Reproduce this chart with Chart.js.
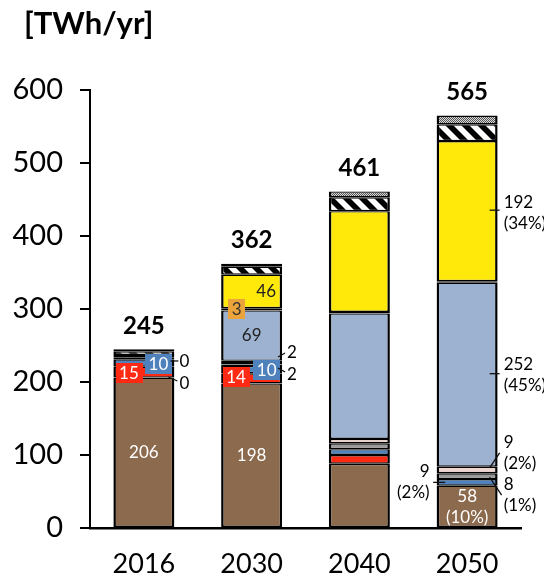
<!DOCTYPE html>
<html>
<head>
<meta charset="utf-8">
<script src="https://cdn.jsdelivr.net/npm/chart.js@4/dist/chart.umd.min.js"></script>
<style>
  html, body { margin: 0; padding: 0; background: #fff; }
  #wrap { width: 544px; height: 583px; }
</style>
</head>
<body>
<div id="wrap"><canvas id="chart" width="544" height="583"></canvas></div>
<script>
// Annual electricity supply by source [TWh/yr]
const years = ['2016', '2030', '2040', '2050'];
const fossil     = [206, 198, 88, 58];
const nuclear    = [15, 14, 12, 0];
const hydro      = [10, 10, 8, 9];
const geothermal = [0, 2, 8, 8];
const biomass    = [0, 2, 6, 9];
const otherFuel  = [3, 3, 0, 0];
const wind       = [3, 69, 172, 252];
const marine     = [0, 3, 2, 2];
const solar      = [0, 46, 138, 192];
const storage    = [5, 11, 19, 23];
const imports    = [3, 4, 8, 12];
const yTicks     = [0, 100, 200, 300, 400, 500, 600];

const FONT = 'Lato, "Open Sans", sans-serif';

function hatchPattern() {
  const c = document.createElement('canvas');
  c.width = 16; c.height = 16;
  const g = c.getContext('2d');
  g.fillStyle = '#fff';
  g.fillRect(0, 0, 16, 16);
  g.fillStyle = '#000';
  for (const o of [-16, 0, 16]) {
    g.beginPath();
    g.moveTo(o, 0); g.lineTo(o + 8, 0); g.lineTo(o + 24, 16); g.lineTo(o + 16, 16);
    g.closePath(); g.fill();
  }
  return g.createPattern(c, 'repeat');
}

function dotPattern() {
  const c = document.createElement('canvas');
  c.width = 2; c.height = 2;
  const g = c.getContext('2d');
  g.fillStyle = '#dadada';
  g.fillRect(0, 0, 2, 2);
  g.fillStyle = '#555';
  g.fillRect(0, 0, 1, 1);
  g.fillRect(1, 1, 1, 1);
  return g.createPattern(c, 'repeat');
}

const COLORS = {
  fossil: '#8C6A4E',
  nuclear: '#FF2A14',
  hydro: '#4F81BD',
  geothermal: '#9A9A9A',
  biomass: '#EDD6D0',
  otherFuel: '#000000',
  wind: '#9DB1D1',
  marine: '#EBA43A',
  solar: '#FFE90A',
  storage: hatchPattern(),
  imports: dotPattern()
};

const series = [
  ['fossil', fossil], ['nuclear', nuclear], ['hydro', hydro],
  ['geothermal', geothermal], ['biomass', biomass], ['otherFuel', otherFuel],
  ['wind', wind], ['marine', marine], ['solar', solar],
  ['storage', storage], ['imports', imports]
];
const seriesKeys = series.map(s => s[0]);

const totals = years.map((_, i) => series.reduce((sum, s) => sum + s[1][i], 0));

// Label placement for individual segments, offsets in px from the segment centre
const placements = [
  { series: 'fossil', cat: 0, kind: 'in', dx: 0, dy: 0, color: '#fff' },
  { series: 'nuclear', cat: 0, kind: 'box', dx: -15, dy: 0.5, color: '#fff' },
  { series: 'hydro', cat: 0, kind: 'box', dx: 14.5, dy: 0.5, color: '#fff' },
  { series: 'geothermal', cat: 0, kind: 'call', align: 'center', dx: 40.5, dy: 24.6, lead: [24.5, 17.6, 33.5, 21.6] },
  { series: 'biomass', cat: 0, kind: 'call', align: 'center', dx: 40.5, dy: 2.6, lead: [26.5, 1.6, 34.5, 1.6] },

  { series: 'fossil', cat: 1, kind: 'in', dx: 0, dy: 0, color: '#fff' },
  { series: 'nuclear', cat: 1, kind: 'box', dx: -15.6, dy: -1.3, color: '#fff' },
  { series: 'hydro', cat: 1, kind: 'box', dx: 15, dy: 0.4, color: '#fff' },
  { series: 'geothermal', cat: 1, kind: 'call', align: 'center', dx: 40.4, dy: 9.8, lead: [26.4, 2.8, 33.4, 6.8] },
  { series: 'biomass', cat: 1, kind: 'call', align: 'center', dx: 40.4, dy: -10.75, lead: [26.4, -6.75, 33.4, -10.75] },
  { series: 'wind', cat: 1, kind: 'in', dx: 0, dy: 0, color: '#222' },
  { series: 'marine', cat: 1, kind: 'box', dx: -15, dy: -0.4, color: '#333' },
  { series: 'solar', cat: 1, kind: 'in', dx: 14.5, dy: 0, color: '#222' },

  { series: 'fossil', cat: 3, kind: 'in', dx: 0, dy: 0.5, color: '#fff', pct: true },
  { series: 'hydro', cat: 3, kind: 'call', align: 'right', dx: -37.5, dy: 0, lead: [-34, 0, -22, 0], pct: true },
  { series: 'geothermal', cat: 3, kind: 'call', align: 'left', dx: 36.5, dy: 19, lead: [22.5, 1, 34.5, 19], pct: true },
  { series: 'biomass', cat: 3, kind: 'call', align: 'left', dx: 36.5, dy: -17, lead: [22.5, -2, 32.5, -17], pct: true },
  { series: 'wind', cat: 3, kind: 'call', align: 'left', dx: 36.5, dy: 0, lead: [22.5, -1, 32.5, -1], pct: true },
  { series: 'solar', cat: 3, kind: 'call', align: 'left', dx: 36.5, dy: 2, lead: [22.5, -1, 32.5, -1], pct: true }
];

const LABEL_SIZE = 17;
const LINE_H = 21;

function drawLines(ctx, lines, x, y, align, color) {
  ctx.fillStyle = color;
  ctx.textAlign = align;
  ctx.textBaseline = 'middle';
  const y0 = y - (lines.length - 1) * LINE_H / 2;
  lines.forEach((t, i) => ctx.fillText(t, x, y0 + i * LINE_H));
}

const segmentLabels = {
  id: 'segmentLabels',
  afterDatasetsDraw(chart) {
    const ctx = chart.ctx;
    ctx.save();
    ctx.font = `${LABEL_SIZE}px ${FONT}`;
    for (const p of placements) {
      const di = seriesKeys.indexOf(p.series);
      const el = chart.getDatasetMeta(di).data[p.cat];
      const v = chart.data.datasets[di].data[p.cat];
      const cx = el.x, cy = (el.y + el.base) / 2;
      const lines = [String(v)];
      if (p.pct) lines.push('(' + Math.round(v / totals[p.cat] * 100) + '%)');
      const x = cx + p.dx, y = cy + p.dy;
      if (p.kind === 'box') {
        const w = ctx.measureText(lines[0]).width + 7;
        const h = 20;
        ctx.fillStyle = COLORS[p.series];
        ctx.fillRect(Math.round(x - w / 2), Math.round(y - h / 2), Math.round(w), h);
        drawLines(ctx, lines, x, y + 0.5, 'center', p.color);
      } else if (p.kind === 'in') {
        drawLines(ctx, lines, x, y, 'center', p.color);
      } else {
        ctx.strokeStyle = '#111';
        ctx.lineWidth = 1.3;
        ctx.beginPath();
        ctx.moveTo(cx + p.lead[0], cy + p.lead[1]);
        ctx.lineTo(cx + p.lead[2], cy + p.lead[3]);
        ctx.stroke();
        drawLines(ctx, lines, x, y, p.align, '#000');
      }
    }
    // stack totals above each bar
    ctx.font = `bold 24px ${FONT}`;
    const yScale = chart.scales.y;
    const meta0 = chart.getDatasetMeta(0);
    totals.forEach((t, i) => {
      const top = yScale.getPixelForValue(t);
      drawLines(ctx, [String(t)], meta0.data[i].x, top - 23, 'center', '#000');
    });
    // unit caption
    ctx.font = `bold 31px ${FONT}`;
    ctx.fillStyle = '#000';
    ctx.textAlign = 'left';
    ctx.textBaseline = 'middle';
    ctx.fillText('[TWh/yr]', 24, 24);
    ctx.restore();
  }
};

const datasets = series.map(([key, values]) => ({
  label: key,
  data: values,
  backgroundColor: COLORS[key],
  borderColor: '#000',
  borderWidth: { top: 1.4, bottom: 1.4, left: 2.5, right: 2.5 },
  borderSkipped: false,
  barPercentage: 0.566,
  categoryPercentage: 1
}));

new Chart(document.getElementById('chart'), {
  type: 'bar',
  data: { labels: years, datasets },
  plugins: [segmentLabels],
  options: {
    responsive: false,
    animation: false,
    devicePixelRatio: 1,
    layout: { padding: { top: 90, right: 23, left: 0, bottom: 0 } },
    plugins: { legend: { display: false }, tooltip: { enabled: false }, title: { display: false } },
    scales: {
      x: {
        stacked: true,
        grid: { display: false, drawTicks: false },
        border: { display: true, color: '#000', width: 2.5 },
        ticks: { color: '#000', font: { family: FONT, size: 27 }, padding: 20 },
        afterFit(s) { s.height = 55; }
      },
      y: {
        stacked: true,
        min: 0,
        max: 600,
        afterBuildTicks(s) { s.ticks = yTicks.map(v => ({ value: v })); },
        grid: { display: true, drawOnChartArea: false, drawTicks: true, tickLength: 10, color: '#000', tickColor: '#000', lineWidth: 2, tickWidth: 2 },
        border: { display: true, color: '#000', width: 2 },
        ticks: { color: '#000', font: { family: FONT, size: 29 }, padding: 17 },
        afterFit(s) { s.width = 90; }
      }
    }
  }
});
</script>
</body>
</html>
